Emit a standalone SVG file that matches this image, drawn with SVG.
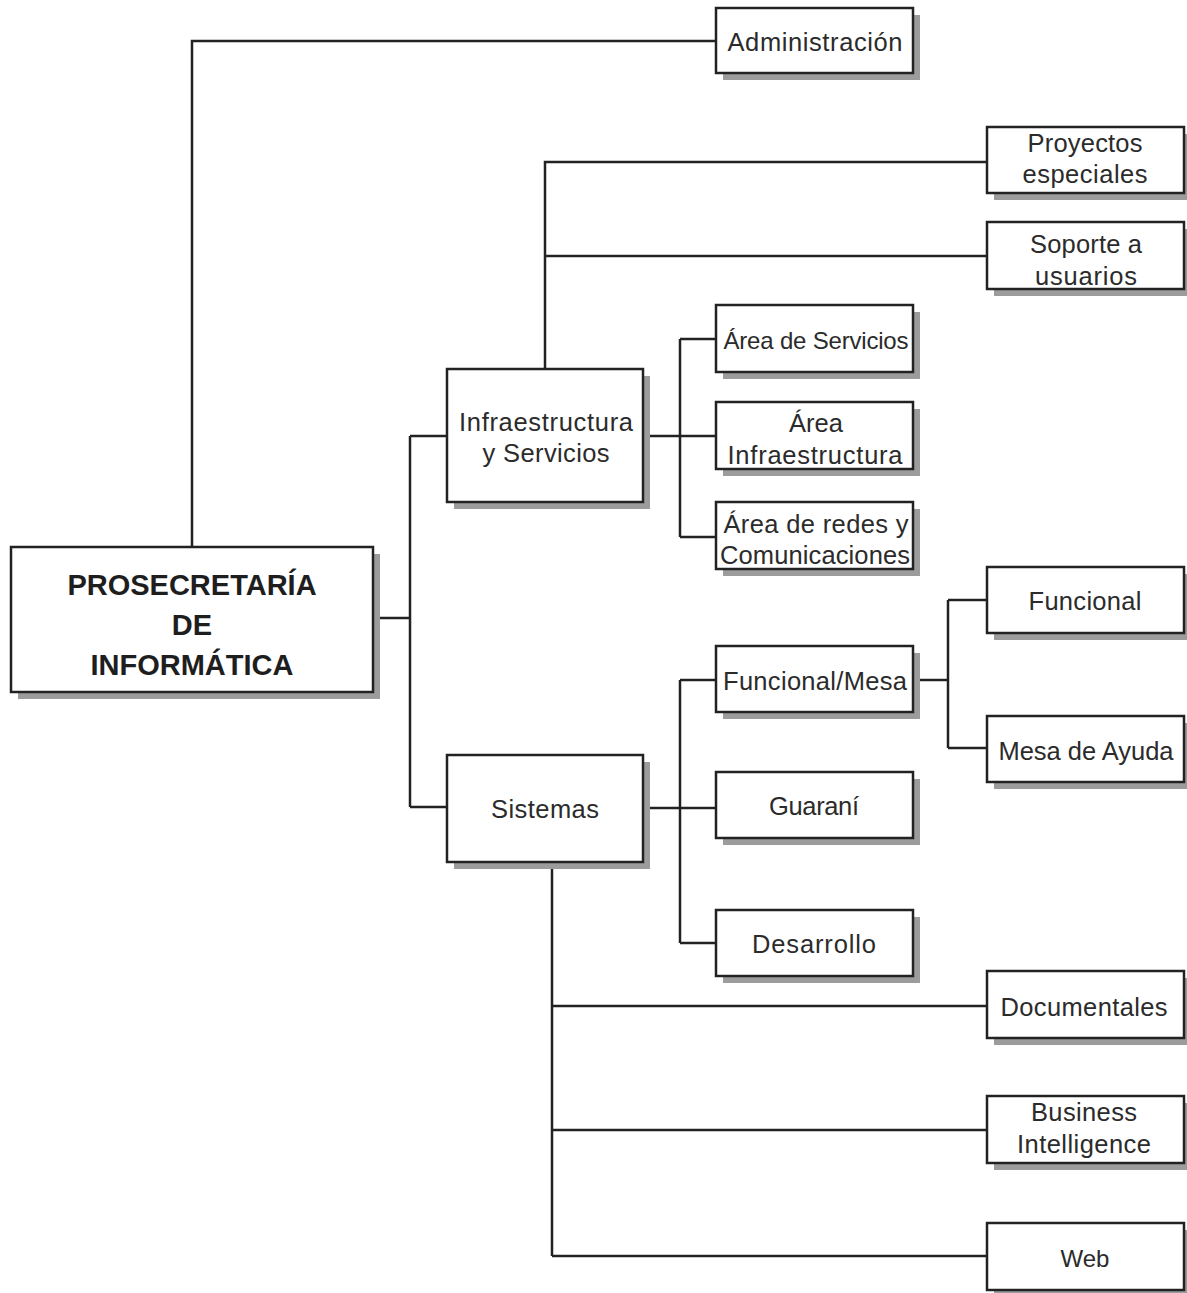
<svg xmlns="http://www.w3.org/2000/svg" width="1187" height="1293" viewBox="0 0 1187 1293">
<defs>
<style>
.sh{fill:#9c9c9c;stroke:none}
.bx{fill:#ffffff;stroke:#222;stroke-width:2.5}
.t{font-family:"Liberation Sans",Arial,sans-serif;font-size:25.5px;fill:#2b2b2b;text-anchor:middle}
.tb{font-family:"Liberation Sans",Arial,sans-serif;font-size:29px;font-weight:bold;fill:#1e1e1e;text-anchor:middle}
.c{fill:none;stroke:#222;stroke-width:2.5}
</style>
</defs>
<rect width="1187" height="1293" fill="#ffffff"/>
<g id="connectors">
<path class="c" d="M192,547 V41 H716"/>
<path class="c" d="M373,618 H410 M410,436 V807 M410,436 H447 M410,807 H447"/>
<path class="c" d="M545,369 V162 H987 M545,256 H987"/>
<path class="c" d="M643,436 H716 M680,339 V537 M680,339 H716 M680,537 H716"/>
<path class="c" d="M643,808 H716 M680,680 V943 M680,680 H716 M680,943 H716"/>
<path class="c" d="M913,680 H948 M948,600 V748 M948,600 H987 M948,748 H987"/>
<path class="c" d="M552,862 V1256 M552,1006 H987 M552,1130 H987 M552,1256 H987"/>
</g>
<g id="n-prosecretaria">
<rect class="sh" x="18" y="554" width="362" height="145"/>
<rect class="bx" x="11" y="547" width="362" height="145"/>
<text class="tb" x="192" y="595">PROSECRETARÍA</text>
<text class="tb" x="192" y="635">DE</text>
<text class="tb" x="192" y="675">INFORMÁTICA</text>
</g>
<g id="n-administracion">
<rect class="sh" x="723" y="15" width="197" height="65"/>
<rect class="bx" x="716" y="8" width="197" height="65"/>
<text class="t" x="815" y="51" textLength="175" lengthAdjust="spacing">Administración</text>
</g>
<g id="n-proyectos">
<rect class="sh" x="994" y="134" width="197" height="66"/>
<rect class="bx" x="987" y="127" width="197" height="66"/>
<text class="t" x="1085" y="152" textLength="115" lengthAdjust="spacing">Proyectos</text>
<text class="t" x="1085" y="183" textLength="125" lengthAdjust="spacing">especiales</text>
</g>
<g id="n-soporte">
<rect class="sh" x="994" y="229" width="197" height="67"/>
<rect class="bx" x="987" y="222" width="197" height="67"/>
<text class="t" x="1086" y="253" textLength="112" lengthAdjust="spacing">Soporte a</text>
<text class="t" x="1086" y="285" textLength="102" lengthAdjust="spacing">usuarios</text>
</g>
<g id="n-infra">
<rect class="sh" x="454" y="376" width="196" height="133"/>
<rect class="bx" x="447" y="369" width="196" height="133"/>
<text class="t" x="546" y="431" textLength="174" lengthAdjust="spacing">Infraestructura</text>
<text class="t" x="546" y="462" textLength="127" lengthAdjust="spacing">y Servicios</text>
</g>
<g id="n-area-servicios">
<rect class="sh" x="723" y="312" width="197" height="67"/>
<rect class="bx" x="716" y="305" width="197" height="67"/>
<text class="t" x="816" y="349" style="font-size:24px" textLength="185" lengthAdjust="spacing">Área de Servicios</text>
</g>
<g id="n-area-infra">
<rect class="sh" x="723" y="409" width="197" height="67"/>
<rect class="bx" x="716" y="402" width="197" height="67"/>
<text class="t" x="816" y="432" textLength="54" lengthAdjust="spacing">Área</text>
<text class="t" x="815" y="464" textLength="175" lengthAdjust="spacing">Infraestructura</text>
</g>
<g id="n-area-redes">
<rect class="sh" x="723" y="509" width="197" height="67"/>
<rect class="bx" x="716" y="502" width="197" height="67"/>
<text class="t" x="816" y="533" textLength="185" lengthAdjust="spacing">Área de redes y</text>
<text class="t" x="815" y="564" textLength="190" lengthAdjust="spacing">Comunicaciones</text>
</g>
<g id="n-funcional">
<rect class="sh" x="994" y="574" width="197" height="66"/>
<rect class="bx" x="987" y="567" width="197" height="66"/>
<text class="t" x="1085" y="610" textLength="113" lengthAdjust="spacing">Funcional</text>
</g>
<g id="n-funcional-mesa">
<rect class="sh" x="723" y="653" width="197" height="66"/>
<rect class="bx" x="716" y="646" width="197" height="66"/>
<text class="t" x="815" y="690" textLength="184" lengthAdjust="spacing">Funcional/Mesa</text>
</g>
<g id="n-mesa-ayuda">
<rect class="sh" x="994" y="723" width="197" height="66"/>
<rect class="bx" x="987" y="716" width="197" height="66"/>
<text class="t" x="1086" y="760" textLength="175" lengthAdjust="spacing">Mesa de Ayuda</text>
</g>
<g id="n-sistemas">
<rect class="sh" x="454" y="762" width="196" height="107"/>
<rect class="bx" x="447" y="755" width="196" height="107"/>
<text class="t" x="545" y="818" textLength="108" lengthAdjust="spacing">Sistemas</text>
</g>
<g id="n-guarani">
<rect class="sh" x="723" y="779" width="197" height="66"/>
<rect class="bx" x="716" y="772" width="197" height="66"/>
<text class="t" x="814" y="815" textLength="90" lengthAdjust="spacing">Guaraní</text>
</g>
<g id="n-desarrollo">
<rect class="sh" x="723" y="917" width="197" height="66"/>
<rect class="bx" x="716" y="910" width="197" height="66"/>
<text class="t" x="814" y="953" textLength="124" lengthAdjust="spacing">Desarrollo</text>
</g>
<g id="n-documentales">
<rect class="sh" x="994" y="978" width="197" height="67"/>
<rect class="bx" x="987" y="971" width="197" height="67"/>
<text class="t" x="1084" y="1016" textLength="167" lengthAdjust="spacing">Documentales</text>
</g>
<g id="n-bi">
<rect class="sh" x="994" y="1103" width="197" height="67"/>
<rect class="bx" x="987" y="1096" width="197" height="67"/>
<text class="t" x="1084" y="1121" textLength="106" lengthAdjust="spacing">Business</text>
<text class="t" x="1084" y="1153" textLength="134" lengthAdjust="spacing">Intelligence</text>
</g>
<g id="n-web">
<rect class="sh" x="994" y="1230" width="197" height="67"/>
<rect class="bx" x="987" y="1223" width="197" height="67"/>
<text class="t" x="1085" y="1267" style="font-size:24px">Web</text>
</g>
</svg>
